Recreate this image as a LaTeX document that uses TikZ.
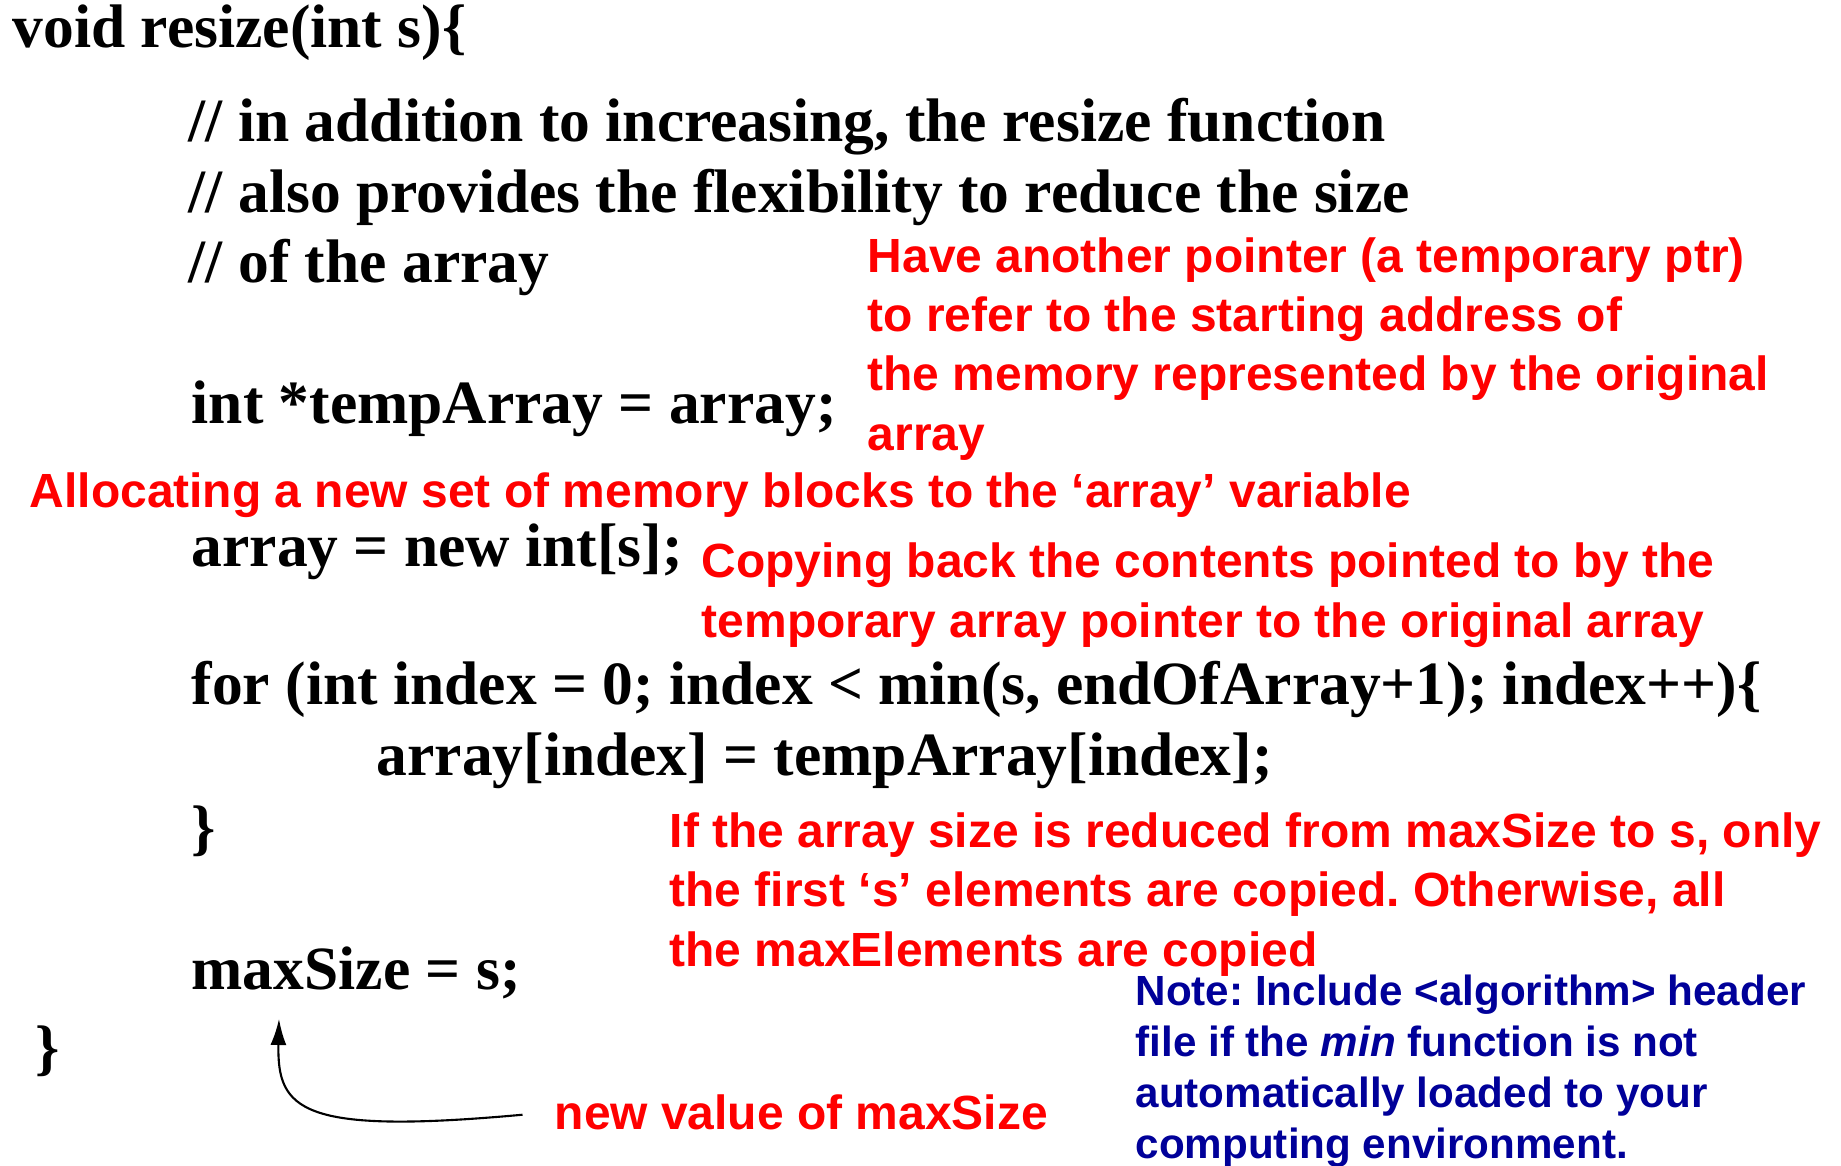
\documentclass[tikz,border=0pt]{standalone}
\usepackage{fontspec}
\usepackage{xcolor}
\usetikzlibrary{arrows.meta,positioning}
\newfontfamily\codefont{Liberation Serif}
\newfontfamily\notefont{Liberation Sans}
\definecolor{NoteRed}{HTML}{FF0000}
\definecolor{NoteBlue}{HTML}{000099}
\frenchspacing
\tikzset{
  code/.style={anchor=base west, inner sep=0pt, font=\codefont\bfseries\fontsize{17.5}{20}\selectfont},
  remark/.style={anchor=base west, inner sep=0pt, align=left, text=NoteRed, font=\notefont\bfseries\fontsize{13.65}{16.8}\selectfont},
  hint/.style={anchor=base west, inner sep=0pt, align=left, text=NoteBlue, font=\notefont\bfseries\fontsize{12}{14.5}\selectfont}
}

\begin{document}
\begin{tikzpicture}
\useasboundingbox (0,0) rectangle (18.41,11.65);
% the code
\node[code] (head) at (0.12,11.17) {void resize(int s)\{};
\node[code] (cmtA) at (1.88,10.23) {// in addition to increasing, the resize function};
\node[code] (cmtB) at (1.88,9.53) {// also provides the flexibility to reduce the size};
\node[code] (cmtC) at (1.88,8.83) {// of the array};
\node[code] (temp) at (1.91,7.42) {int *tempArray = array;};
\node[code] (alloc) at (1.91,5.99) {array = new int[s];};
\node[code] (loop) at (1.91,4.61) {for (int index = 0; index < min(s, endOfArray+1); index++)\{};
\node[code] (copy) at (3.76,3.90) {array[index] = tempArray[index];};
\node[code] (loopend) at (1.91,3.17) {\}};
\node[code] (setmax) at (1.91,1.76) {maxSize = s;};
\node[code] (tail) at (0.35,0.97) {\}};
% the remarks (base = last line)
\node[remark] (ptrnote) at (8.67,7.15) {Have another pointer (a temporary ptr)\\to refer to the starting address of\\the memory represented by the original\\array};
\node[remark] (allocnote) at (0.29,6.58) {Allocating a new set of memory blocks to the ‘array’ variable};
\node[remark] (copynote) at (7.01,5.28) {Copying back the contents pointed to by the\\temporary array pointer to the original array};
\node[remark] (sizenote) at (6.69,1.99) {If the array size is reduced from maxSize to s, only\\the first ‘s’ elements are copied. Otherwise, all\\the maxElements are copied};
\node[hint] (minnote) at (11.35,0.07) {Note: Include <algorithm> header\\file if the \textit{min} function is not\\automatically loaded to your\\computing environment.};
\node[remark] (newval) at (5.54,0.36) {new value of maxSize};
\coordinate (tip) at (2.79,1.46);
\draw[-{Latex[length=2.6mm,width=1.6mm]}, semithick, shorten <=9pt] (newval.west) .. controls (3.0,0.30) and (2.77,0.55) .. (tip);
\end{tikzpicture}
\end{document}
